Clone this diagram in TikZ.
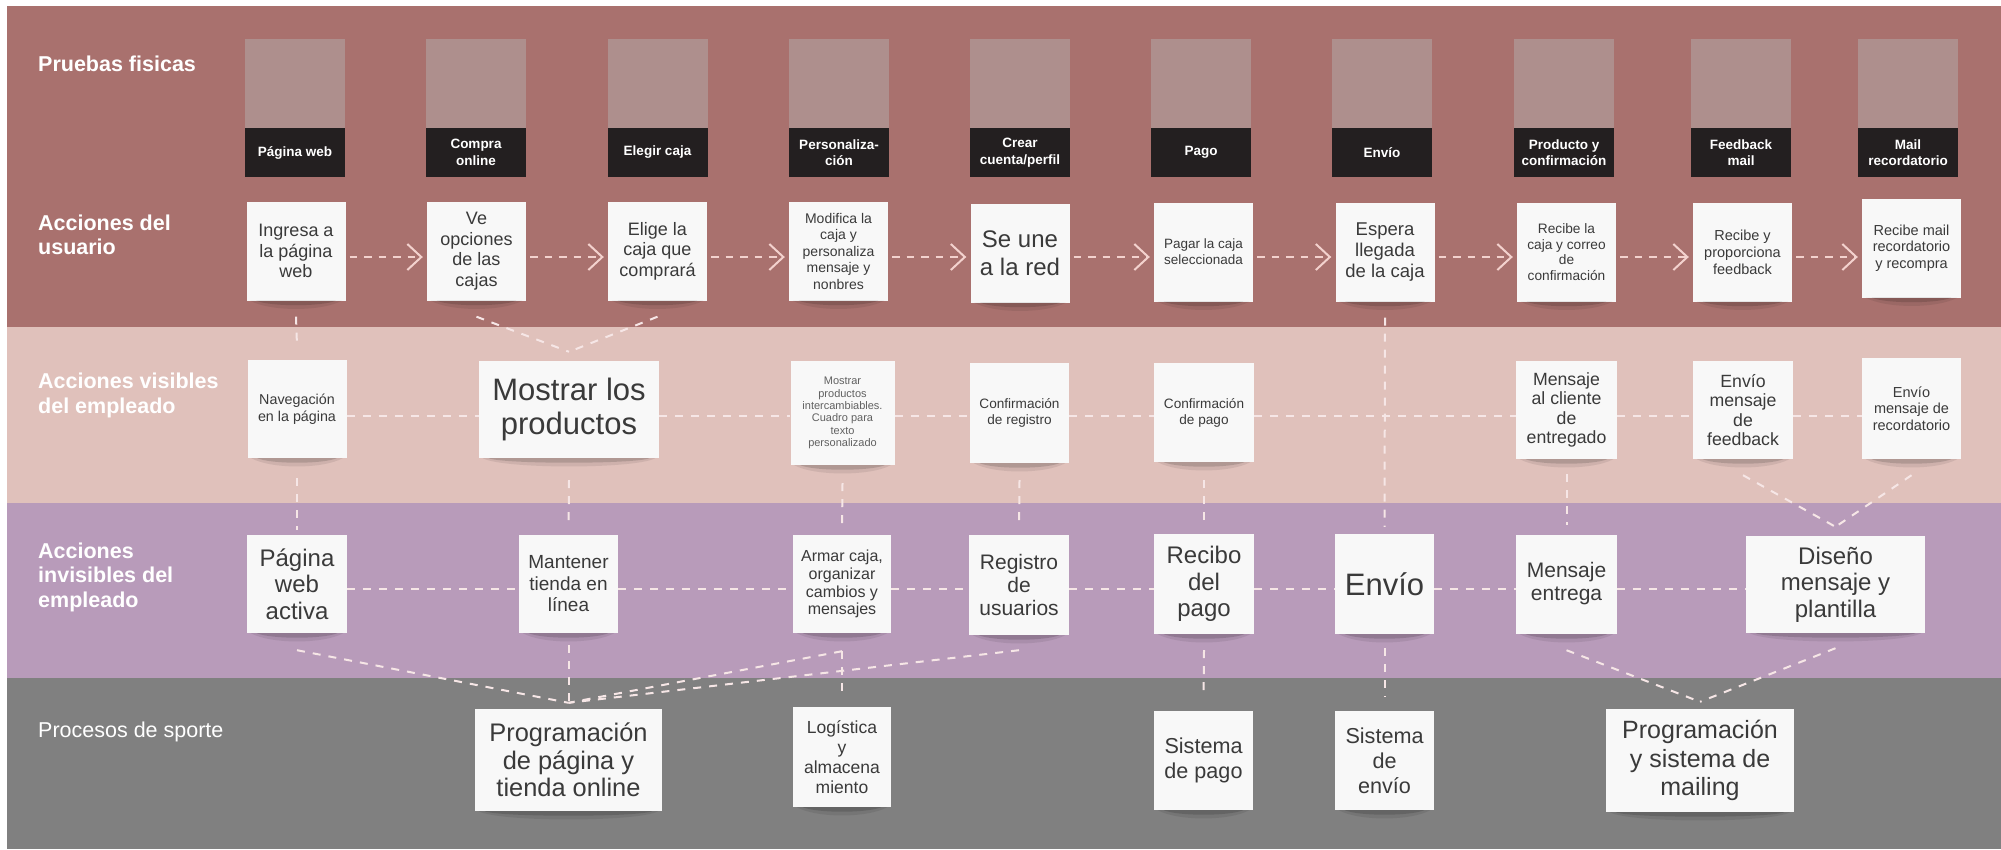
\documentclass[tikz,border=0pt]{standalone}
\usepackage{fontspec}
\setmainfont{Liberation Sans}
\usetikzlibrary{arrows.meta,calc}
\definecolor{bandA}{HTML}{A9716E}
\definecolor{bandB}{HTML}{E0C1BB}
\definecolor{bandC}{HTML}{B89BBA}
\definecolor{bandD}{HTML}{808080}
\definecolor{evgray}{HTML}{AE8F8D}
\definecolor{evblack}{HTML}{231F20}
\definecolor{notefill}{HTML}{F8F8F8}
\definecolor{notetext}{HTML}{3A3A3A}
\definecolor{flowcol}{HTML}{F3D2CE}
\definecolor{linkcol}{HTML}{F6E6E6}
\newcommand\fs[2]{\fontsize{#1}{#2}\selectfont}
\newcommand\nshadow[1]{%
  \fill[black, opacity=0.08] ([xshift=4pt]#1.south west) .. controls ([xshift=24pt,yshift=-11pt]#1.south west) and ([xshift=-24pt,yshift=-11pt]#1.south east) .. ([xshift=-4pt]#1.south east) -- cycle;
  \fill[black, opacity=0.14] ([xshift=10pt]#1.south west) .. controls ([xshift=24pt,yshift=-6pt]#1.south west) and ([xshift=-24pt,yshift=-6pt]#1.south east) .. ([xshift=-10pt]#1.south east) -- cycle;
}
\tikzset{
  note/.style={fill=notefill, text=notetext, align=center, inner sep=0pt, minimum width=99pt, minimum height=99pt},
  evtop/.style={fill=evgray, minimum width=100pt, minimum height=89pt, inner sep=0pt},
  evlabel/.style={fill=evblack, text=white, font={\bfseries\fs{13.5}{16.5}}, align=center, minimum width=100pt, minimum height=49pt, inner sep=0pt},
  rowlabel/.style={anchor=west, text=white, align=left, font={\bfseries\fs{21.5}{24.5}}, inner sep=0pt},
  flow/.style={draw=flowcol, line width=2pt, dash pattern=on 7.5pt off 7pt, -{Straight Barb[length=14pt,width=26pt,line width=2pt]}, shorten <=4pt, shorten >=4pt},
  link/.style={draw=linkcol, line width=2pt, dash pattern=on 8pt off 8pt},
}
\begin{document}
\begin{tikzpicture}[x=1pt,y=-1pt]
\useasboundingbox (0,0) rectangle (2001,849);
\fill[white] (0,0) rectangle (2001,849);
% bands
\fill[bandA] (7,6) rectangle (2001,327);
\fill[bandB] (7,327) rectangle (2001,503);
\fill[bandC] (7,503) rectangle (2001,678);
\fill[bandD] (7,678) rectangle (2001,849);
% row labels
\node[rowlabel] (lab1) at (38,64) {Pruebas fisicas};
\node[rowlabel] (lab2) at (38,235) {Acciones del\\usuario};
\node[rowlabel] (lab3) at (38,395.5) {Acciones visibles\\del empleado};
\node[rowlabel] (lab4) at (38,577) {Acciones\\invisibles del\\empleado};
\node[rowlabel, font={\fs{21.5}{24.5}}] (lab5) at (38,732) {Procesos de sporte};
% physical evidence
\foreach \i/\x/\t in {1/295/{Página web},2/476/{Compra\\online},3/657.5/{Elegir caja},4/839/{Personaliza-\\ción},5/1020/{Crear\\cuenta/perfil},6/1201/{Pago},7/1382/{Envío},8/1564/{Producto y\\confirmación},9/1741/{Feedback\\mail},10/1908/{Mail\\recordatorio}}{
  \node[evtop] (g\i) at (\x,83.5) {};
  \node[evlabel] (e\i) at (\x,152.5) {\t};
}
% row 1 : user actions
\node[note, font={\fs{18}{20.5}}] (u1) at (296,251) {Ingresa a\\la página\\web};
\node[note, font={\fs{18}{20.5}}] (u2) at (476.5,251) {Ve\\opciones\\de las\\cajas};
\node[note, font={\fs{18}{20.5}}] (u3) at (657.5,251) {Elige la\\caja que\\comprará};
\node[note, font={\fs{14}{16.5}}] (u4) at (838.5,251) {Modifica la\\caja y\\personaliza\\mensaje y\\nonbres};
\node[note, font={\fs{24}{28}}] (u5) at (1020,253) {Se une\\a la red};
\node[note, font={\fs{13.5}{16}}] (u6) at (1203.5,252) {Pagar la caja\\seleccionada};
\node[note, font={\fs{18.5}{21}}] (u7) at (1385,252) {Espera\\llegada\\de la caja};
\node[note, font={\fs{13.7}{15.7}}] (u8) at (1566.5,252) {Recibe la\\caja y correo\\de\\confirmación};
\node[note, font={\fs{14.5}{17}}] (u9) at (1742.5,252) {Recibe y\\proporciona\\feedback};
\node[note, font={\fs{14.5}{16.5}}] (u10) at (1911.5,248) {Recibe mail\\recordatorio\\y recompra};
% row 2 : visible employee actions
\node[note, font={\fs{14.3}{17}}, minimum height=98pt] (n21) at (297,409) {Navegación\\en la página};
\node[note, font={\fs{31}{34}}, minimum width=180pt, minimum height=97pt] (n22) at (569,409.5) {Mostrar los\\productos};
\node[note, font={\fs{11}{12.3}}, text=notetext!80, minimum width=104pt, minimum height=104pt] (n23) at (842.5,413) {Mostrar\\productos\\intercambiables.\\Cuadro para\\texto\\personalizado};
\node[note, font={\fs{13.6}{16}}, minimum height=100pt] (n24) at (1019.5,413) {Confirmación\\de registro};
\node[note, font={\fs{13.6}{16}}, minimum width=100pt] (n25) at (1204,412.5) {Confirmación\\de pago};
\node[note, font={\fs{17.7}{19.6}}, minimum width=101pt, minimum height=98pt] (n26) at (1566.5,410) {Mensaje\\al cliente\\de\\entregado};
\node[note, font={\fs{17.7}{19.6}}, minimum width=100pt, minimum height=98pt] (n27) at (1743,410) {Envío\\mensaje\\de\\feedback};
\node[note, font={\fs{14.5}{16.5}}, minimum height=101pt] (n28) at (1911.5,408.5) {Envío\\mensaje de\\recordatorio};
% row 3 : invisible employee actions
\node[note, font={\fs{24}{26.5}}, minimum width=100pt, minimum height=98pt] (n31) at (297,584) {Página\\web\\activa};
\node[note, font={\fs{19}{21.5}}, minimum height=98pt] (n32) at (568.5,584) {Mantener\\tienda en\\línea};
\node[note, font={\fs{16}{17.8}}, minimum width=98pt, minimum height=98pt] (n33) at (842,584) {Armar caja,\\organizar\\cambios y\\mensajes};
\node[note, font={\fs{21}{23}}, minimum width=100pt, minimum height=100pt] (n34) at (1019,585) {Registro\\de\\usuarios};
\node[note, font={\fs{24}{26.5}}, minimum width=100pt, minimum height=100pt] (n35) at (1204,584) {Recibo\\del\\pago};
\node[note, font={\fs{31}{34}}, minimum height=100pt] (n36) at (1384.5,584) {Envío};
\node[note, font={\fs{21}{23}}, minimum width=101pt] (n37) at (1566.5,584.5) {\raisebox{-10pt}{\begin{tabular}{@{}c@{}}Mensaje\\entrega\end{tabular}}};
\node[note, font={\fs{24}{26.7}}, minimum width=179pt, minimum height=97pt] (n38) at (1835.5,584.5) {Diseño\\mensaje y\\plantilla};
% row 4 : support processes
\node[note, font={\fs{25.4}{27.5}}, minimum width=187pt, minimum height=102pt] (n41) at (568.5,760) {Programación\\de página y\\tienda online};
\node[note, font={\fs{17.5}{20}}, minimum width=98pt, minimum height=100pt] (n42) at (842,757) {Logística\\y\\almacena\\miento};
\node[note, font={\fs{21.6}{25}}] (n43) at (1203.5,760.5) {Sistema\\de pago};
\node[note, font={\fs{21.6}{25}}] (n44) at (1384.5,760.5) {Sistema\\de\\envío};
\node[note, font={\fs{25}{28.5}}, minimum width=188pt, minimum height=103pt] (n45) at (1700,760.5) {Programación\\y sistema de\\mailing};
% shadows
\foreach \n in {u1,u2,u3,u4,u5,u6,u7,u8,u9,u10,n21,n22,n23,n24,n25,n26,n27,n28,n31,n32,n33,n34,n35,n36,n37,n38,n41,n42,n43,n44,n45}{\nshadow{\n}}
% flow arrows (row 1)
\coordinate (yf) at (0,257);
\foreach \a/\b in {u1/u2,u2/u3,u3/u4,u4/u5,u5/u6,u6/u7,u7/u8,u8/u9,u9/u10}{
  \draw[flow] (\a.east |- yf) -- (\b.west |- yf);
}
% horizontal links rows 2 and 3
\coordinate (ytwo) at (0,416);
\coordinate (ythree) at (0,589);
\foreach \a/\b in {n21/n22,n22/n23,n23/n24,n24/n25,n25/n26,n26/n27,n27/n28}{
  \draw[link] (\a.east |- ytwo) -- (\b.west |- ytwo);
}
\foreach \a/\b in {n31/n32,n32/n33,n33/n34,n34/n35,n35/n36,n36/n37,n37/n38}{
  \draw[link] (\a.east |- ythree) -- (\b.west |- ythree);
}
% vertical and diagonal links
\draw[link] ([yshift=-16pt]u1.south) -- ([yshift=14pt]n21.north);
\draw[link] ([yshift=-16pt]u2.south) -- ([yshift=9pt]n22.north);
\draw[link] ([yshift=-16pt]u3.south) -- ([yshift=9pt]n22.north);
\draw[link] ([yshift=-16pt]u7.south) -- ([yshift=7pt]n36.north);
\draw[link] ([yshift=-20pt]n21.south) -- ([yshift=5pt]n31.north);
\draw[link] ([yshift=-22pt]n22.south) -- ([yshift=7pt]n32.north);
\draw[link] ([yshift=-18pt]n23.south) -- ([yshift=7pt]n33.north);
\draw[link] ([yshift=-17pt]n24.south) -- ([yshift=8pt]n34.north);
\draw[link] ([yshift=-18pt]n25.south) -- ([yshift=7pt]n35.north);
\draw[link] ([yshift=-15pt]n26.south) -- ([yshift=10pt]n37.north);
\draw[link] ([yshift=-16pt]n27.south) -- ([yshift=9pt]n38.north);
\draw[link] ([yshift=-16pt]n28.south) -- ([yshift=9pt]n38.north);
\draw[link] ([yshift=-17pt]n31.south) -- ([yshift=6pt]n41.north);
\draw[link] ([yshift=-12pt]n32.south) -- ([yshift=6pt]n41.north);
\draw[link] ([yshift=-18pt]n33.south) -- ([yshift=6pt]n41.north);
\draw[link] ([yshift=-15pt]n34.south) -- ([yshift=6pt]n41.north);
\draw[link] ([yshift=-18pt]n33.south) -- ([yshift=10pt]n42.north);
\draw[link] ([yshift=-16pt]n35.south) -- ([yshift=14pt]n43.north);
\draw[link] ([yshift=-14pt]n36.south) -- ([yshift=14pt]n44.north);
\draw[link] ([yshift=-16pt]n37.south) -- ([yshift=7pt]n45.north);
\draw[link] ([yshift=-15pt]n38.south) -- ([yshift=7pt]n45.north);
\end{tikzpicture}
\end{document}
